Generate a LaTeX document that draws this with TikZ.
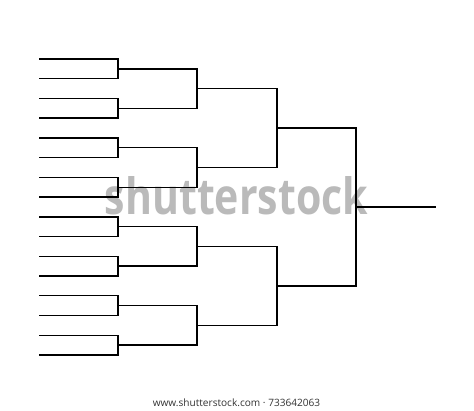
\documentclass[tikz,border=0pt]{standalone}
\usepackage{fontspec}
\setsansfont{Open Sans}
\usetikzlibrary{calc}
\begin{document}
\begin{tikzpicture}[x=1pt,y=-1pt,
	bracket line/.style={draw=black,line width=1.4pt,line cap=rect},
	wmark/.style={inner sep=0pt,text=black!27,font=\sffamily\bfseries},
	credit/.style={inner sep=0pt,text=black!80,font=\sffamily\fontsize{10.1}{12}\selectfont}]
	\def\gap{19.73}
	\useasboundingbox[fill=white] (0,0) rectangle (474,410);
	% watermark first, lines on top
	\node[wmark] (wm) at (236.5,196) {\resizebox{263pt}{38pt}{shutterstock}};
	\node[credit] (cr) at (236.5,403) {www.shutterstock.com · 733642063};
	% first round entries
	\foreach \i in {1,...,16}{
		\coordinate (r0s\i) at (39.5,{59+(\i-1)*\gap});
		\coordinate (r0e\i) at (118,{59+(\i-1)*\gap});
		\draw[bracket line] (r0s\i) -- (r0e\i);
	}
	% later rounds
	\foreach \rd/\pv/\len/\n in {1/0/79/8, 2/1/80/4, 3/2/79/2, 4/3/79/1}{
		\foreach \j in {1,...,\n}{
			\pgfmathtruncatemacro\ja{2*\j-1}
			\pgfmathtruncatemacro\jb{2*\j}
			\coordinate (r\rd s\j) at ($(r\pv e\ja)!0.5!(r\pv e\jb)$);
			\coordinate (r\rd e\j) at ($(r\rd s\j)+(\len,0)$);
			\draw[bracket line] (r\pv e\ja) -- (r\pv e\jb);
			\draw[bracket line] (r\rd s\j) -- (r\rd e\j);
		}
	}
\end{tikzpicture}
\end{document}
